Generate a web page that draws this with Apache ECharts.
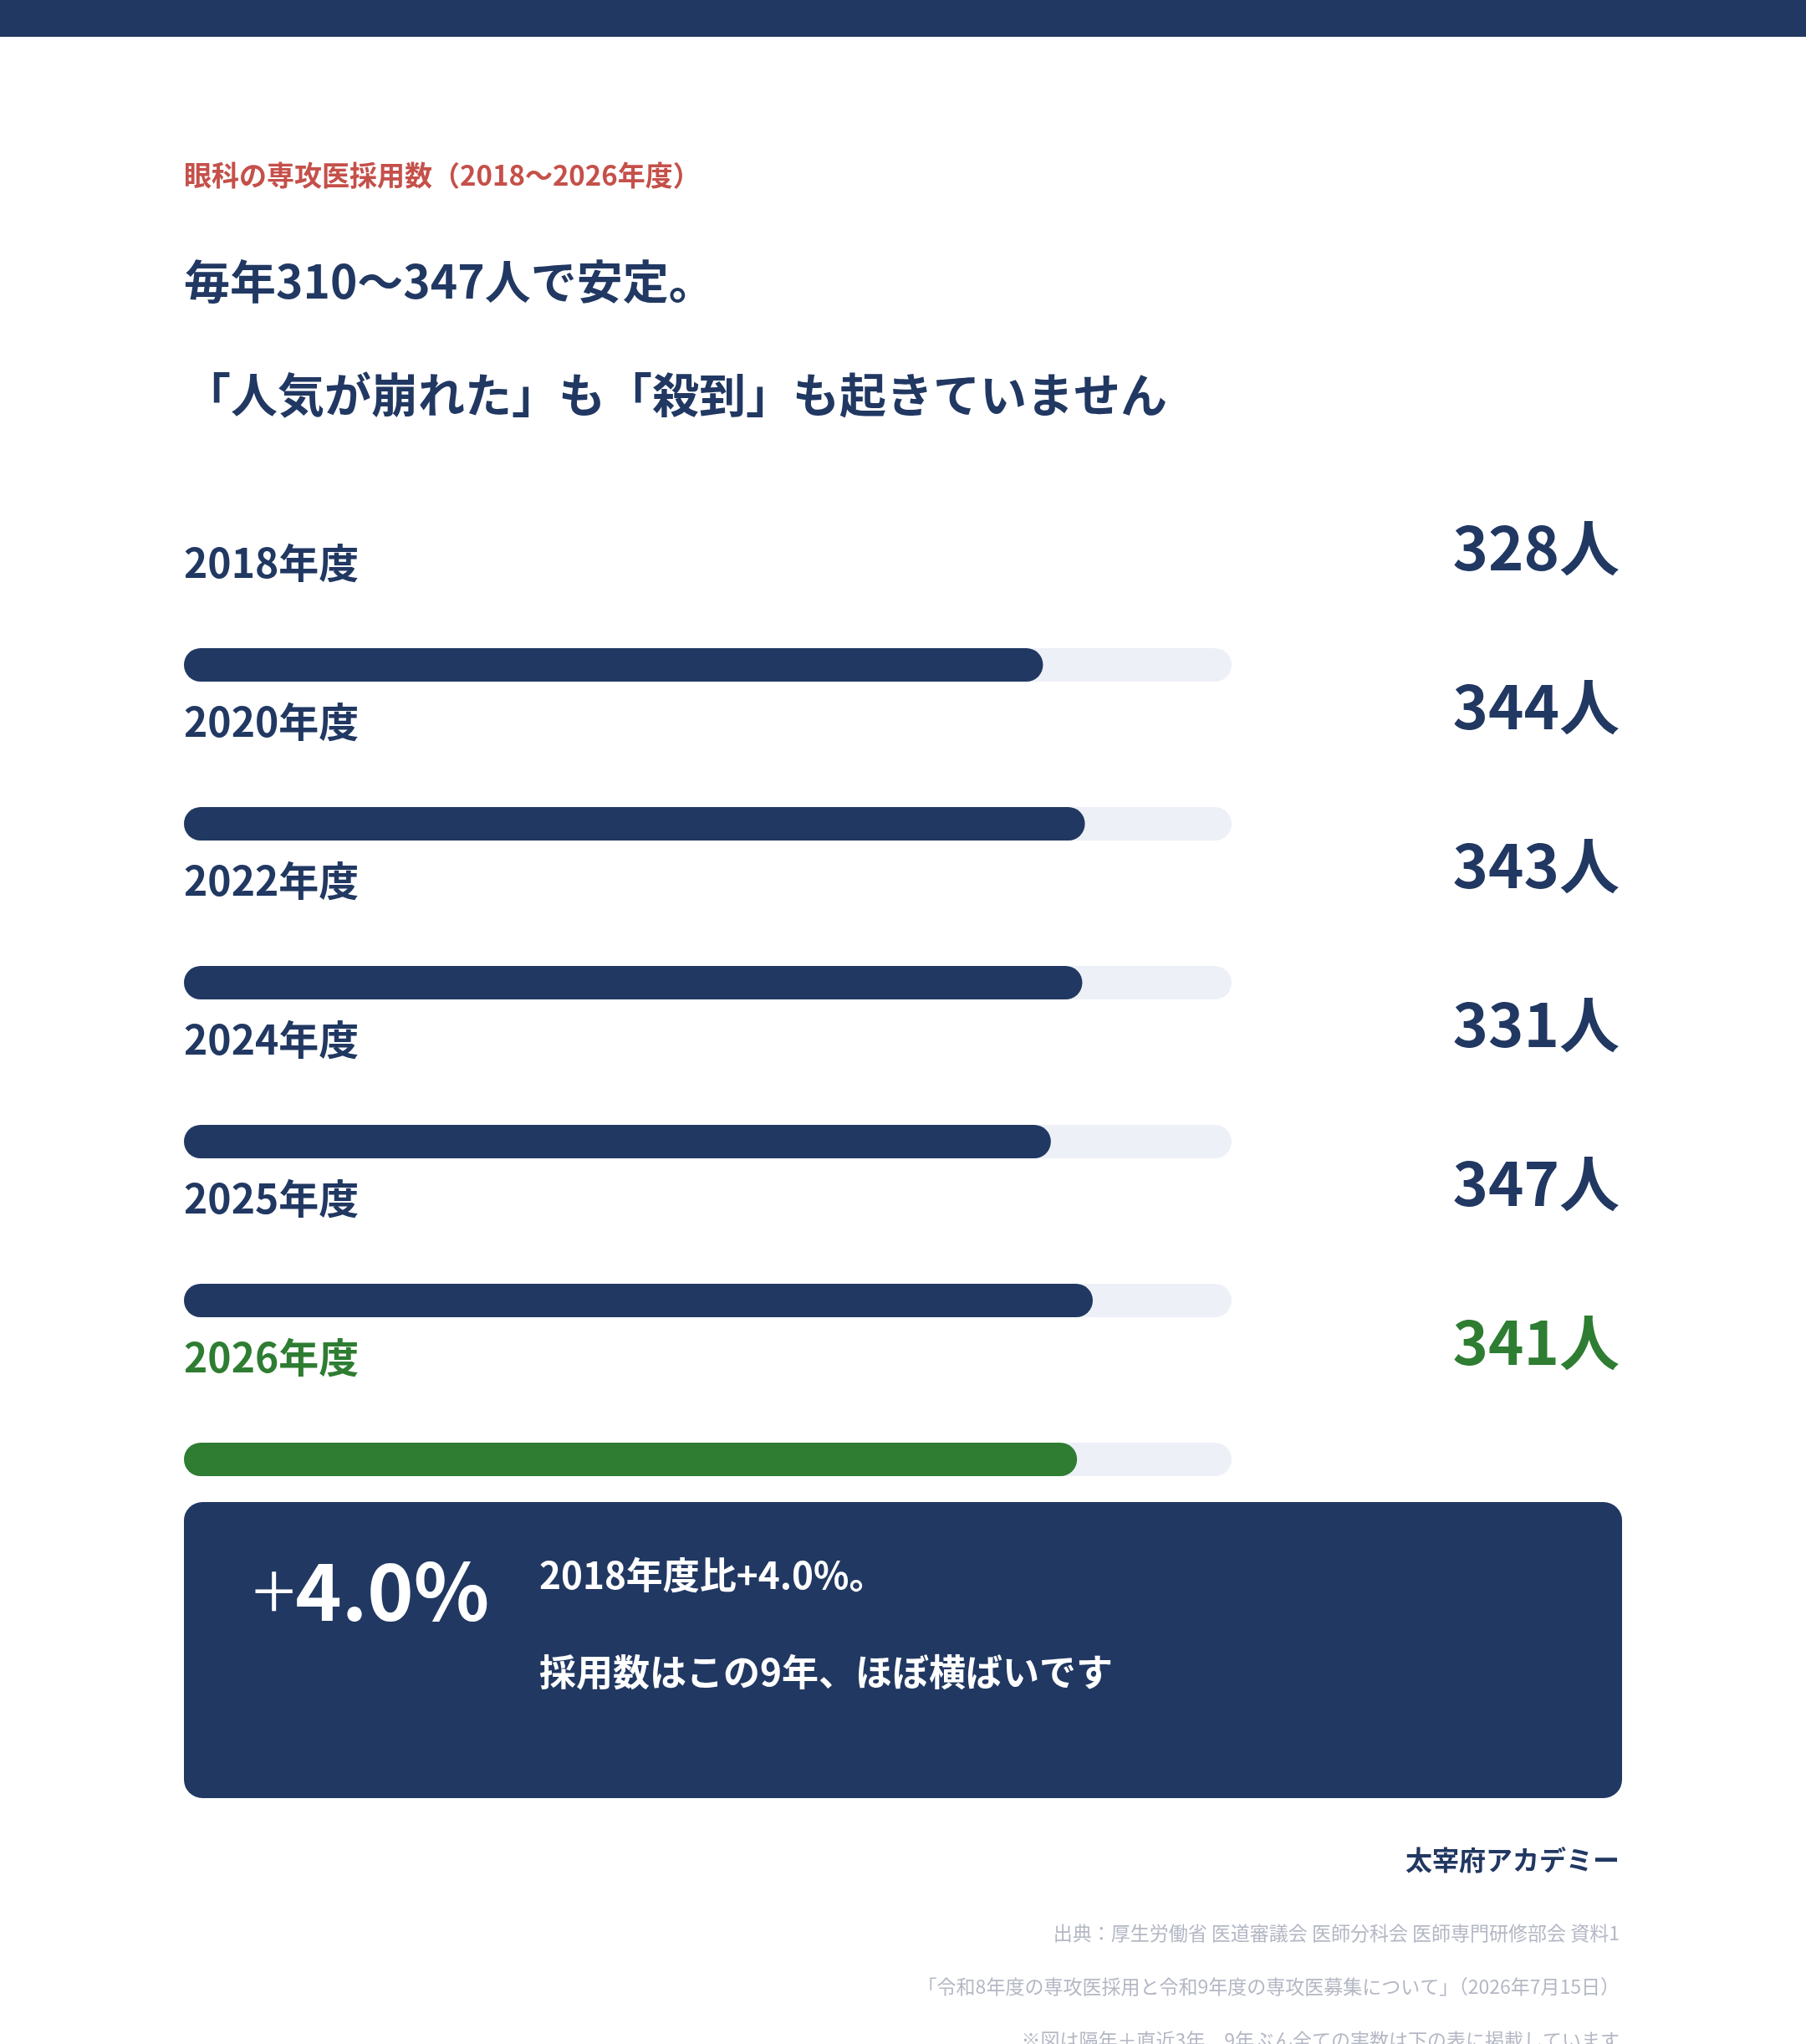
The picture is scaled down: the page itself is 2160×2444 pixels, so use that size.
<!DOCTYPE html>
<html>
<head>
<meta charset="utf-8">
<script src="https://cdn.jsdelivr.net/npm/echarts@6/dist/echarts.min.js"></script>
<style>
html, body { margin: 0; padding: 0; background: #fff; }
#main { width: 2160px; height: 2444px; }
</style>
</head>
<body>
<div id="main"></div>
<script>
// data
var years = ['2018年度', '2020年度', '2022年度', '2024年度', '2025年度', '2026年度'];
var counts = [328, 344, 343, 331, 347, 341];
var highlightYear = '2026年度';
var axisMax = 400;

var NAVY = '#213862';
var GREEN = '#2e7d32';
var TRACK = '#edf0f7';
var FONT = '"Noto Sans CJK JP", "Noto Sans", sans-serif';

function colorOf(i) {
    return years[i] === highlightYear ? GREEN : NAVY;
}

var myChart = echarts.init(document.getElementById('main'));
var option = {
    backgroundColor: '#fff',
    animation: false,
    grid: {
        left: 220,
        top: 700,
        width: 1253,
        height: 1140
    },
    xAxis: {
        type: 'value',
        min: 0,
        max: axisMax,
        show: false
    },
    yAxis: [{
            type: 'category',
            data: years,
            inverse: true,
            axisLine: { show: false },
            axisTick: { show: false },
            axisLabel: {
                interval: 0,
                margin: 0,
                align: 'left',
                verticalAlign: 'bottom',
                padding: [0, 0, 98, 0],
                lineHeight: 48,
                fontSize: 48,
                fontWeight: 'bold',
                fontFamily: FONT,
                color: function (value, index) { return colorOf(index); }
            }
        },
        {
            type: 'category',
            data: years,
            inverse: true,
            position: 'right',
            axisLine: { show: false },
            axisTick: { show: false },
            axisLabel: {
                interval: 0,
                margin: 464,
                align: 'right',
                verticalAlign: 'bottom',
                padding: [0, 0, 104, 0],
                lineHeight: 72,
                fontSize: 72,
                fontWeight: 'bold',
                fontFamily: FONT,
                formatter: function (value, index) { return counts[index] + '人'; },
                color: function (value, index) { return colorOf(index); }
            }
        }
    ],
    series: [{
        type: 'bar',
        barWidth: 40,
        showBackground: true,
        backgroundStyle: { color: TRACK, borderRadius: 20 },
        itemStyle: { borderRadius: 20 },
        data: counts.map(function (v, i) {
            return { value: v, itemStyle: { color: colorOf(i), borderRadius: 20 } };
        })
    }],
    graphic: [
        { type: 'rect', shape: { x: 0, y: 0, width: 2160, height: 44 }, style: { fill: NAVY } },
        { type: 'text', x: 220, y: 209, style: { text: '眼科の専攻医採用数（2018〜2026年度）', font: 'bold 33px ' + FONT, fill: '#c5504a', verticalAlign: 'middle' } },
        { type: 'text', x: 220, y: 336, style: { text: '毎年310〜347人で安定。', font: 'bold 55px ' + FONT, fill: NAVY, verticalAlign: 'middle' } },
        { type: 'text', x: 220, y: 472, style: { text: '「人気が崩れた」も「殺到」も起きていません', font: 'bold 56px ' + FONT, fill: NAVY, verticalAlign: 'middle' } },
        { type: 'rect', shape: { x: 220, y: 1796, width: 1720, height: 354, r: 22 }, style: { fill: NAVY } },
        {
            type: 'text', x: 302, y: 1902,
            style: {
                text: '{p|+}{n|4.0%}',
                fill: '#fff',
                verticalAlign: 'middle',
                rich: {
                    p: { font: '300 96px ' + FONT, fill: '#fff' },
                    n: { font: 'bold 94px ' + FONT, fill: '#fff' }
                }
            }
        },
        { type: 'text', x: 645, y: 1883, style: { text: '2018年度比+4.0%。', font: 'bold 44px ' + FONT, fill: '#fff', verticalAlign: 'middle' } },
        { type: 'text', x: 645, y: 1999, style: { text: '採用数はこの9年、ほぼ横ばいです', font: 'bold 44px ' + FONT, fill: '#fff', verticalAlign: 'middle' } },
        { type: 'text', x: 1937, y: 2224, style: { text: '太宰府アカデミー', font: 'bold 32px ' + FONT, fill: NAVY, align: 'right', verticalAlign: 'middle' } },
        { type: 'text', x: 1937, y: 2311, style: { text: '出典：厚生労働省 医道審議会 医師分科会 医師専門研修部会 資料1', font: '23px ' + FONT, fill: '#b4b8c4', align: 'right', verticalAlign: 'middle' } },
        { type: 'text', x: 1937, y: 2375, style: { text: '「令和8年度の専攻医採用と令和9年度の専攻医募集について」（2026年7月15日）', font: '23px ' + FONT, fill: '#b4b8c4', align: 'right', verticalAlign: 'middle' } },
        { type: 'text', x: 1937, y: 2439, style: { text: '※図は隔年＋直近3年、9年ぶん全ての実数は下の表に掲載しています', font: '23px ' + FONT, fill: '#b4b8c4', align: 'right', verticalAlign: 'middle' } }
    ]
};
myChart.setOption(option);
</script>
</body>
</html>
